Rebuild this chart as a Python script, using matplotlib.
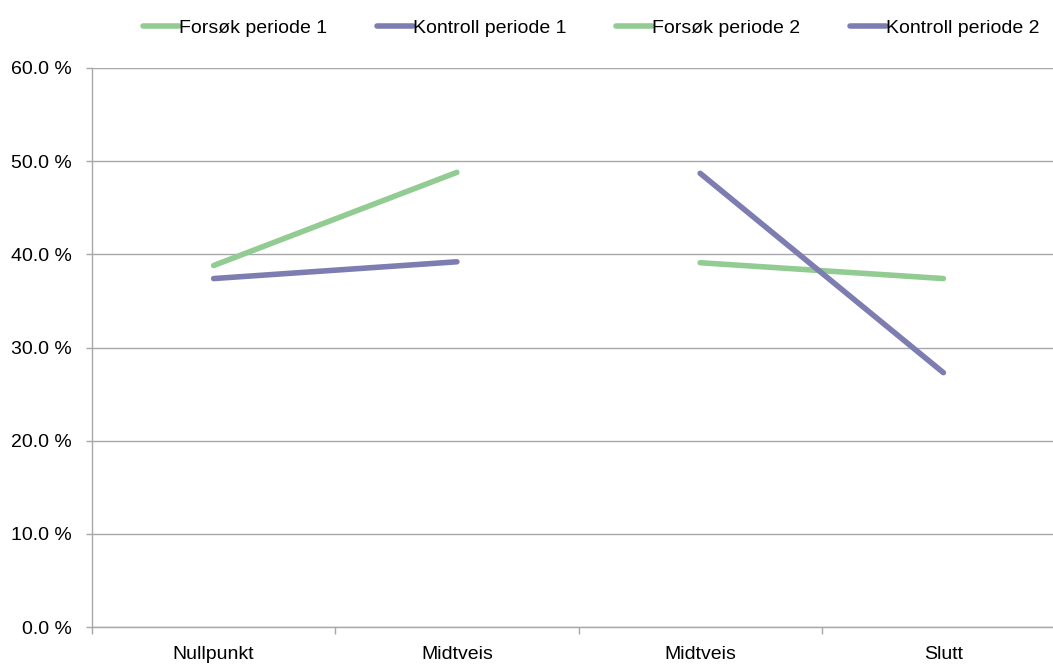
import matplotlib
matplotlib.use("Agg")
import matplotlib.pyplot as plt
from matplotlib.ticker import FixedLocator, FuncFormatter

categories = ["Nullpunkt", "Midtveis", "Midtveis", "Slutt"]
forsok_p1 = [38.8, 48.8]
kontroll_p1 = [37.4, 39.2]
forsok_p2 = [39.1, 37.4]
kontroll_p2 = [48.7, 27.3]
series_names = ["Forsøk periode 1", "Kontroll periode 1", "Forsøk periode 2", "Kontroll periode 2"]

green = "#92CC92"
purple = "#7D7DB1"
grid_col = "#A8A8A8"

plt.rcParams['font.family'] = ['Liberation Sans', 'DejaVu Sans']
fs = 14

fig = plt.figure(figsize=(10.53, 6.64), dpi=100)
ax = fig.add_axes([92/1053, 1-627/664, (1065-92)/1053, (627-68)/664])

lw = 4.0
ax.plot([0, 1], forsok_p1, color=green, lw=lw, solid_capstyle='round', label=series_names[0])
ax.plot([0, 1], kontroll_p1, color=purple, lw=lw, solid_capstyle='round', label=series_names[1])
ax.plot([2, 3], forsok_p2, color=green, lw=lw, solid_capstyle='round', label=series_names[2])
ax.plot([2, 3], kontroll_p2, color=purple, lw=lw, solid_capstyle='round', label=series_names[3])

ax.set_xlim(-0.5, 3.5)
ax.set_ylim(0, 60)
ax.set_yticks([0, 10, 20, 30, 40, 50, 60])
ax.yaxis.set_major_formatter(FuncFormatter(lambda v, p: f"{v:.1f} %"))
ax.yaxis.grid(True, color=grid_col, lw=1)
ax.set_axisbelow(True)

ax.xaxis.set_major_locator(FixedLocator([-0.5, 0.5, 1.5, 2.5, 3.5]))
ax.xaxis.set_major_formatter(FuncFormatter(lambda v, p: ""))
ax.xaxis.set_minor_locator(FixedLocator([0, 1, 2, 3]))
ax.set_xticklabels(categories, minor=True)
ax.tick_params(axis='x', which='major', length=5, color=grid_col, width=1)
ax.tick_params(axis='x', which='minor', length=0, pad=13.5, labelsize=fs, labelcolor='black')
ax.tick_params(axis='y', length=4.3, color=grid_col, width=1, pad=10, labelsize=fs)

for s in ['top', 'right']:
    ax.spines[s].set_visible(False)
for s in ['left', 'bottom']:
    ax.spines[s].set_color(grid_col)
    ax.spines[s].set_linewidth(1)

fig.legend(loc='center', bbox_to_anchor=(591.5/1053, 1-28/664), ncol=4, frameon=False,
           fontsize=fs, handlelength=1.86, handletextpad=0.0, columnspacing=2.55)

fig.savefig("out.png", dpi=100)
